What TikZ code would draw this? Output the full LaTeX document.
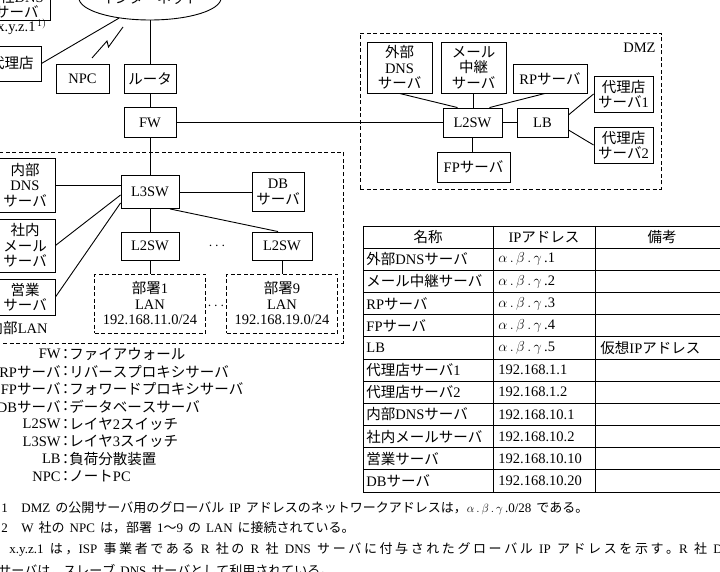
\documentclass[tikz,border=0pt]{standalone}
\usepackage{fontspec}
\usetikzlibrary{shapes.geometric}
\setmainfont{Liberation Serif}
\newfontfamily\jfont{Noto Sans CJK JP}
\newfontfamily\lfont{Liberation Serif}
\newcommand\widesp{\spaceskip=5pt plus 1pt minus 1pt\relax}
\XeTeXinterchartokenstate=1
\newXeTeXintercharclass\jclass
\makeatletter
\count@="3000 \loop\ifnum\count@<"3100 \XeTeXcharclass\count@=\jclass \advance\count@ 1 \repeat
\count@="4E00 \loop\ifnum\count@<"A000 \XeTeXcharclass\count@=\jclass \advance\count@ 1 \repeat
\count@="FF00 \loop\ifnum\count@<"FFF0 \XeTeXcharclass\count@=\jclass \advance\count@ 1 \repeat
\makeatother
\XeTeXinterchartoks 0 \jclass={\jfont}
\XeTeXinterchartoks 4095 \jclass={\jfont}
\XeTeXinterchartoks \jclass 0={\lfont}
\XeTeXinterchartoks \jclass 4095={\lfont}
\XeTeXinterchartoks \jclass \jclass={\hskip 0pt plus 2pt\relax}
\begin{document}
\begin{tikzpicture}[x=1pt,y=-1pt,line width=0.9pt,
  box/.style={draw,align=center,inner sep=0pt,font=\fontsize{14.5}{15.5}\selectfont},
  dbox/.style={draw,dash pattern=on 4pt off 2.5pt,align=center,inner sep=0pt,font=\fontsize{14.5}{15.5}\selectfont},
  sz/.style n args={2}{minimum width=#1pt,minimum height=#2pt},
  txt/.style={inner sep=0pt,font=\fontsize{14.5}{15.5}\selectfont},
  lg/.style={inner sep=0pt,font=\fontsize{14.5}{16}\selectfont},
  nt/.style={inner sep=0pt,anchor=west,font=\fontsize{13}{15}\selectfont},
  tb/.style={inner sep=0pt,font=\fontsize{14.5}{15}\selectfont}]
\useasboundingbox (0,0) rectangle (720,572);
\clip (0,0) rectangle (720,572);
\fill[white] (0,0) rectangle (720,572);
% --- top area
\node[draw,ellipse,minimum width=142pt,minimum height=44pt,inner sep=0pt,font=\fontsize{14}{15}\selectfont] (inet) at (150,-2) {インターネット};
\node[box,sz={66}{31.5}] (rdns) at (17,4.25) {R社DNS\\サーバ};
\node[txt,anchor=east] (xyz) at (47,27) {x.y.z.1$^{\,1)}$};
\node[box,sz={58}{35}] (dairi) at (12,63.5) {代理店};
\node[box,sz={53}{29}] (npc) at (82.5,78.5) {NPC};
\node[box,sz={52}{29}] (router) at (150,78.5) {ルータ};
\node[box,sz={52}{30}] (fw) at (150,122.5) {FW};
\draw (dairi.east) -- (inet.213);
\draw (router.north) -- (inet.south);
\draw (router.south) -- (fw.north);
\draw (92,58) -- (107,41) -- (108.5,47) -- (123,27);
% --- DMZ
\node[dbox,sz={301}{156}] (dmz) at (510.5,111) {};
\node[txt,anchor=east] (dmzlabel) at (656,48) {DMZ};
\node[box,sz={65}{51}] (gdns) at (399.5,67.5) {外部\\DNS\\サーバ};
\node[box,sz={65}{51}] (mail) at (473.5,67.5) {メール\\中継\\サーバ};
\node[box,sz={74}{29}] (rp) at (550,78.5) {RPサーバ};
\node[box,sz={59}{36}] (ag1) at (623.5,94) {代理店\\サーバ1};
\node[box,sz={59}{29}] (l2dmz) at (472.5,122.5) {L2SW};
\node[box,sz={51}{29}] (lb) at (542.5,122.5) {LB};
\node[box,sz={59}{36}] (ag2) at (623.5,145) {代理店\\サーバ2};
\node[box,sz={73}{30}] (fp) at (473.5,167) {FPサーバ};
\draw (fw.east) -- (l2dmz.west);
\draw (gdns.south) -- ([xshift=-15pt]l2dmz.north);
\draw (mail.south) -- (mail.south |- l2dmz.north);
\draw ([xshift=-5pt]rp.south) -- ([xshift=17pt]l2dmz.north);
\draw (l2dmz.east) -- (lb.west);
\draw ([yshift=7.5pt]lb.east) -- (ag1.west);
\draw ([yshift=-7.5pt]lb.east) -- (ag2.west);
\draw (l2dmz.south) -- (l2dmz.south |- fp.north);
% --- internal LAN
\node[dbox,sz={353}{191}] (lan) at (166.5,247.5) {};
\node[txt,anchor=east] (lanlabel) at (48,328) {内部LAN};
\node[box,sz={60}{54}] (idns) at (25,185) {内部\\DNS\\サーバ};
\node[box,sz={60}{53}] (imail) at (25,245.5) {社内\\メール\\サーバ};
\node[box,sz={60}{36}] (sales) at (25,297) {営業\\サーバ};
\node[box,sz={58}{33}] (l3) at (150,192) {L3SW};
\node[box,sz={52}{39}] (db) at (278,192) {DB\\サーバ};
\node[box,sz={58}{28}] (l2a) at (150,246) {L2SW};
\node[box,sz={60}{28}] (l2b) at (282,246) {L2SW};
\node[txt] (dotsa) at (217,246) {$\cdots$};
\node[dbox,sz={111}{59}] (dept1) at (150,303.5) {部署1\\LAN\\192.168.11.0/24};
\node[dbox,sz={111}{59}] (dept9) at (282,303.5) {部署9\\LAN\\192.168.19.0/24};
\node[txt] (dotsb) at (216,306) {$\cdots$};
\draw (fw.south) -- (l3.north);
\draw ([yshift=7pt]l3.west) -- (idns.east);
\draw ([yshift=-3pt]l3.west) -- (imail.east);
\draw ([yshift=-11pt]l3.west) -- (sales.east);
\draw (l3.east) -- (db.west);
\draw ([xshift=20pt]l3.south) -- ([xshift=-4pt]l2b.north);
\draw (l3.south) -- (l2a.north);
\draw (l2a.south) -- (dept1.north);
\draw (l2b.south) -- (dept9.north);
% --- legend
\foreach \yy/\la/\de [count=\k] in {354/FW/ファイアウォール, 371.5/RPサーバ/リバースプロキシサーバ, 389/FPサーバ/フォワードプロキシサーバ, 406.5/DBサーバ/データベースサーバ, 424/L2SW/レイヤ2スイッチ, 441.5/L3SW/レイヤ3スイッチ, 459/LB/負荷分散装置, 476.5/NPC/ノートPC}{
  \node[lg,anchor=east] (lga\k) at (61,\yy) {\la};
  \node[lg] (lgc\k) at (65.5,\yy) {：};
  \node[lg,anchor=west] (lgd\k) at (69,\yy) {\de};
}
% --- table
\foreach \i in {0,...,12}{\draw (363,{226+22.17*\i}) -- (735,{226+22.17*\i});}
\draw (363,226) -- (363,492);
\draw (493,226) -- (493,492);
\draw (595,226) -- (595,492);
\node[tb] (h1) at (428,237) {名称};
\node[tb] (h2) at (544,237) {IPアドレス};
\node[tb] (h3) at (662,237) {備考};
\foreach \a/\b [count=\r] in {外部DNSサーバ/{$\alpha\,.\,\beta\,.\,\gamma\,$.1}, メール中継サーバ/{$\alpha\,.\,\beta\,.\,\gamma\,$.2}, RPサーバ/{$\alpha\,.\,\beta\,.\,\gamma\,$.3}, FPサーバ/{$\alpha\,.\,\beta\,.\,\gamma\,$.4}, LB/{$\alpha\,.\,\beta\,.\,\gamma\,$.5}, 代理店サーバ1/192.168.1.1, 代理店サーバ2/192.168.1.2, 内部DNSサーバ/192.168.10.1, 社内メールサーバ/192.168.10.2, 営業サーバ/192.168.10.10, DBサーバ/192.168.10.20}{
  \node[tb,anchor=west] (ca\r) at (366,{226+22.17*(\r+0.5)}) {\a};
  \node[tb,anchor=west] (cb\r) at (498,{226+22.17*(\r+0.5)}) {\b};
}
\node[tb,anchor=west] (cc5) at (600,{226+22.17*5.5}) {仮想IPアドレス};
% --- notes
\node[nt] (n1) at (1,508) {1};
\node[nt] (n1t) at (21,508) {\widesp DMZ の公開サーバ用のグローバル IP アドレスのネットワークアドレスは，$\alpha\,.\,\beta\,.\,\gamma\,$.0/28 である。};
\node[nt] (n2) at (1,528) {2};
\node[nt] (n2t) at (21,528) {\widesp W 社の NPC は，部署 1〜9 の LAN に接続されている。};
\node[nt] (n3) at (9,549) {\widesp\makebox[730pt][s]{x.y.z.1 は，ISP 事業者である R 社の R 社 DNS サーバに付与されたグローバル IP アドレスを示す。R 社 DNS}};
\node[nt] (n4) at (-2,571) {\widesp サーバは，スレーブ DNS サーバとして利用されている。};
\end{tikzpicture}
\end{document}
